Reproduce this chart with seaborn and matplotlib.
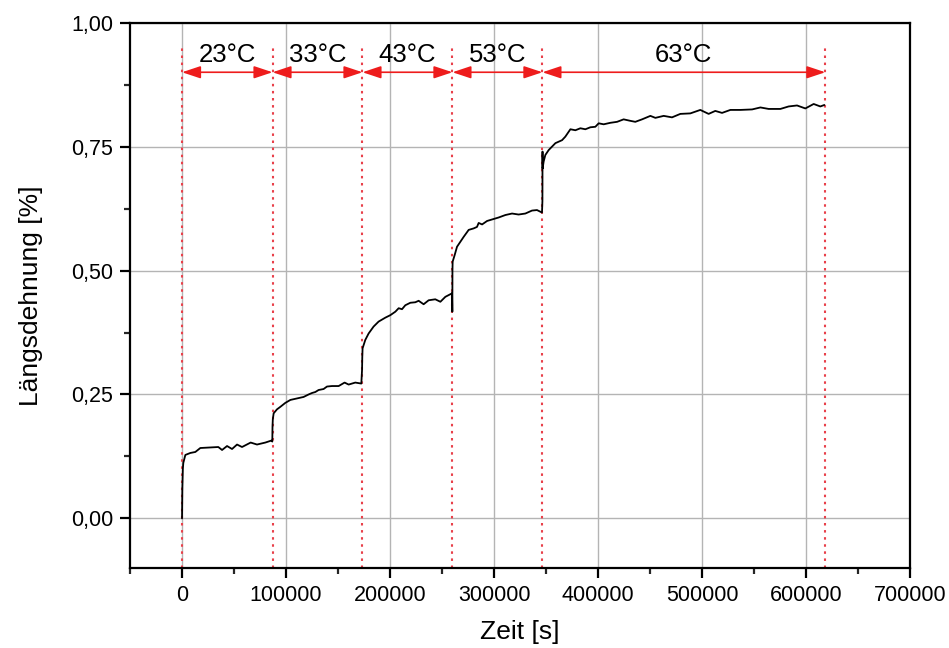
import numpy as np
import pandas as pd
import matplotlib
matplotlib.use("Agg")
import matplotlib.pyplot as plt
import seaborn as sns
from matplotlib.ticker import MultipleLocator, FuncFormatter

# ---- data ----
t_23 = [0, 300, 800, 1250, 3200, 8000, 12800, 17600, 25600, 34900, 38500, 43300,
        48100, 52900, 57700, 66000, 72100, 80100, 85900, 86800]
e_23 = [0.0, 0.06, 0.10, 0.112, 0.128, 0.132, 0.134, 0.142, 0.143, 0.144, 0.138, 0.146,
        0.140, 0.149, 0.144, 0.153, 0.149, 0.153, 0.157, 0.155]

t_33 = [87000, 87300, 88100, 91300, 94500, 99300, 104200, 110600, 116900, 121700, 125000,
        128200, 131300, 136100, 139400, 144200, 150600, 156300, 160200, 166600, 172400]
e_33 = [0.185, 0.200, 0.212, 0.220, 0.225, 0.233, 0.239, 0.242, 0.245, 0.250, 0.253,
        0.255, 0.259, 0.261, 0.266, 0.267, 0.267, 0.274, 0.270, 0.274, 0.272]

t_43 = [173100, 173300, 173600, 176200, 179400, 184200, 189000, 195500, 200300, 205100,
        208300, 211500, 214700, 219500, 224300, 227500, 232300, 237100, 243500, 248400,
        253200, 259600]
e_43 = [0.300, 0.325, 0.343, 0.360, 0.373, 0.387, 0.397, 0.405, 0.410, 0.417,
        0.424, 0.422, 0.430, 0.435, 0.436, 0.439, 0.432, 0.440, 0.442, 0.437,
        0.447, 0.454]

t_53 = [259900, 260000, 260200, 262100, 264400, 267600, 270800, 275600, 280400, 283600,
        285200, 288500, 293300, 298100, 304400, 310900, 317300, 323600, 330100, 336500,
        341300, 346100]
e_53 = [0.417, 0.500, 0.518, 0.531, 0.548, 0.558, 0.568, 0.582, 0.585, 0.588,
        0.596, 0.593, 0.600, 0.603, 0.607, 0.612, 0.615, 0.613, 0.615, 0.621,
        0.622, 0.617]

t_63 = [346500, 346600, 346700, 347700, 349300, 352500, 355800, 359000, 362100, 365400,
        368500, 371700, 373400, 378200, 383000, 387800, 392600, 397400, 400600, 405400,
        411800, 418300, 424600, 431000, 435800, 442300, 450300, 455100, 463100, 471100,
        479100, 488700, 498300, 506300, 512700, 519200, 527200, 536800, 548100, 556100,
        564000, 575300, 583200, 591300, 599300, 607300, 613700, 617600]
e_63 = [0.640, 0.740, 0.706, 0.720, 0.733, 0.743, 0.750, 0.757, 0.760, 0.763,
        0.770, 0.780, 0.785, 0.783, 0.787, 0.785, 0.789, 0.790, 0.797, 0.795,
        0.798, 0.800, 0.805, 0.802, 0.800, 0.805, 0.812, 0.808, 0.812, 0.809,
        0.816, 0.817, 0.824, 0.816, 0.822, 0.818, 0.824, 0.824, 0.825, 0.829,
        0.826, 0.826, 0.831, 0.833, 0.827, 0.836, 0.831, 0.834]

boundaries = [0, 87000, 173500, 260000, 346500, 618500]
stage_labels = ["23°C", "33°C", "43°C", "53°C", "63°C"]

xticks = [0, 100000, 200000, 300000, 400000, 500000, 600000, 700000]
yticks = [0.0, 0.25, 0.5, 0.75, 1.0]

df = pd.DataFrame({
    "Zeit": t_23 + t_33 + t_43 + t_53 + t_63,
    "Dehnung": e_23 + e_33 + e_43 + e_53 + e_63,
})

# ---- plot ----
sns.set_theme(style="white")
plt.rcParams["font.family"] = ["Liberation Sans", "DejaVu Sans"]

fig = plt.figure(figsize=(9.49, 6.48), dpi=100)
ax = fig.add_axes([0.137, 0.1235, 0.822, 0.8415])

ax.set_xlim(-50000, 700000)
ax.set_ylim(-0.1, 1.0)

ax.set_xticks(xticks)
ax.set_yticks(yticks)
ax.xaxis.set_minor_locator(MultipleLocator(50000))
ax.yaxis.set_minor_locator(MultipleLocator(0.125))
ax.yaxis.set_major_formatter(FuncFormatter(lambda v, p: f"{v:.2f}".replace(".", ",")))
ax.xaxis.set_major_formatter(FuncFormatter(lambda v, p: f"{int(round(v))}"))

ax.grid(True, which="major", color="#b4b4b4", lw=1.0)
ax.set_axisbelow(True)

# red dotted boundary lines
for b in boundaries:
    ax.plot([b, b], [-0.1, 0.951], color="#e8404a", ls=(0, (1.2, 2.2)), lw=1.5, zorder=2)

sns.lineplot(data=df, x="Zeit", y="Dehnung", sort=False, estimator=None,
             color="black", lw=1.3, ax=ax, zorder=3)

# arrows and labels
for i, lab in enumerate(stage_labels):
    x0, x1 = boundaries[i], boundaries[i + 1]
    ax.annotate("", xy=(x1, 0.90), xytext=(x0, 0.90),
                arrowprops=dict(arrowstyle="<|-|>,head_length=0.75,head_width=0.25",
                                color="#ee1c1c", lw=1.2, shrinkA=0, shrinkB=0,
                                mutation_scale=15), zorder=4)
    ax.text((x0 + x1) / 2, 0.935, lab, ha="center", va="center", fontsize=18.5,
            color="black", zorder=5)

for s in ax.spines.values():
    s.set_visible(True)
    s.set_color("black")
    s.set_linewidth(1.6)

ax.tick_params(axis="both", which="major", direction="out", length=7, width=1.6,
               labelsize=15.5, colors="black", bottom=True, left=True, pad=5)
ax.tick_params(axis="both", which="minor", direction="out", length=4, width=1.6,
               bottom=True, left=True)

ax.set_xlabel("Zeit [s]", fontsize=19, labelpad=10, color="black")
ax.set_ylabel("Längsdehnung [%]", fontsize=19, labelpad=20, color="black")

fig.savefig("out.png", dpi=100)
